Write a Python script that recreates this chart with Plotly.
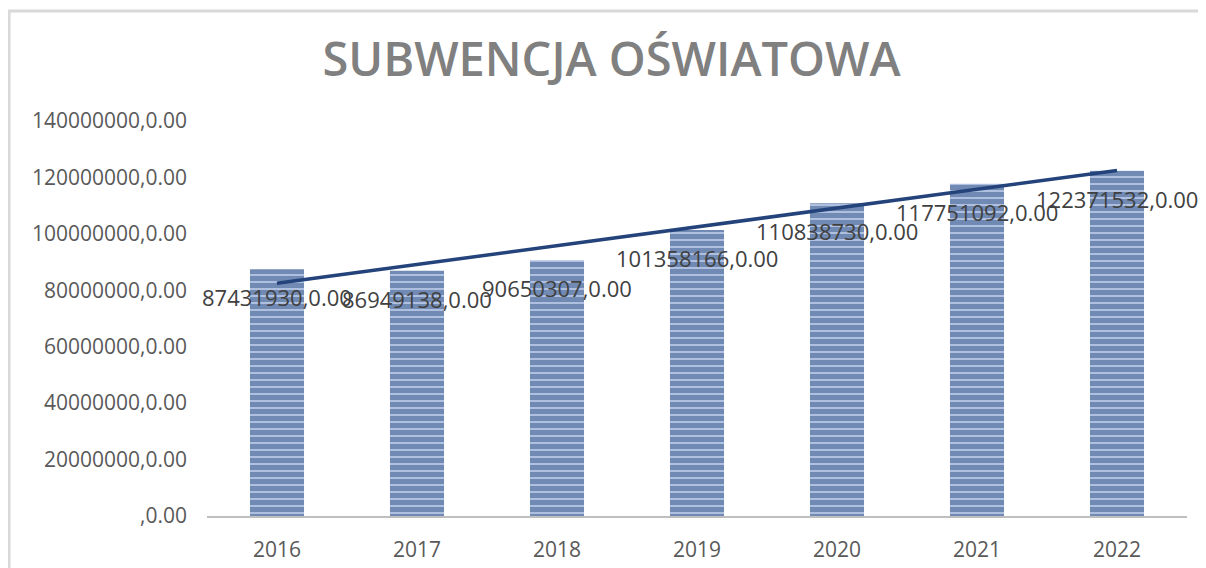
import numpy as np
import plotly.graph_objects as go

years = ["2016", "2017", "2018", "2019", "2020", "2021", "2022"]
values = [87431930, 86949138, 90650307, 101358166, 110838730, 117751092, 122371532]
label_texts = [f"{v},0.00" for v in values]
y_tickvals = [0, 20000000, 40000000, 60000000, 80000000, 100000000, 120000000, 140000000]
y_ticktext = [",0.00", "20000000,0.00", "40000000,0.00", "60000000,0.00", "80000000,0.00",
              "100000000,0.00", "120000000,0.00", "140000000,0.00"]
title_text = "SUBWENCJA OŚWIATOWA"

# linear trendline (Excel-style) fitted to the data
xi = np.arange(len(values))
slope, intercept = np.polyfit(xi, values, 1)
trend = [float(v) for v in slope * xi + intercept]

fig = go.Figure()
fig.add_trace(go.Bar(
    x=years, y=values,
    marker=dict(
        color="#b8c8e6",
        line=dict(width=0),
        pattern=dict(shape="-", fgcolor="#24457d", bgcolor="#bfcfeb", size=7, solidity=0.78),
    ),
    width=0.386,
    showlegend=False,
    hoverinfo="skip",
))
fig.add_trace(go.Scatter(
    x=years, y=trend, mode="lines",
    line=dict(color="#24437a", width=3.5),
    showlegend=False, hoverinfo="skip",
))

for i, (v, t) in enumerate(zip(values, label_texts)):
    fig.add_annotation(x=i, y=v, text=t, showarrow=False, yshift=-28,
                       font=dict(family="Open Sans", size=22, color="#404040"))

# outer chart border (top and left visible)
fig.add_shape(type="rect", xref="paper", yref="paper",
              x0=-0.202, x1=1.2, y0=-0.6, y1=1.2785,
              line=dict(color="#d9d9d9", width=3), layer="below")

fig.update_layout(
    width=1206, height=568,
    margin=dict(l=199, r=27, t=113, b=60, autoexpand=False),
    paper_bgcolor="white", plot_bgcolor="white",
    title=dict(text=title_text, x=0.5004, xanchor="center", y=1 - 52 / 568, yanchor="middle",
               font=dict(family="Open Sans", size=47, color="#808080", weight=600)),
    font=dict(family="Open Sans", color="#595959"),
)
fig.update_xaxes(
    type="category", automargin=False, range=[-0.5, 6.5],
    showline=True, linecolor="#bfbfbf", linewidth=2, showgrid=False,
    ticks="", tickfont=dict(size=21, color="#595959"), ticklabelstandoff=14,
)
fig.update_yaxes(
    range=[0, 140000000], tickvals=y_tickvals, ticktext=y_ticktext, automargin=False,
    showgrid=False, zeroline=False, showline=False, ticks="",
    tickfont=dict(size=21, color="#595959"), ticklabelstandoff=19,
)

fig.write_html("out.html")
